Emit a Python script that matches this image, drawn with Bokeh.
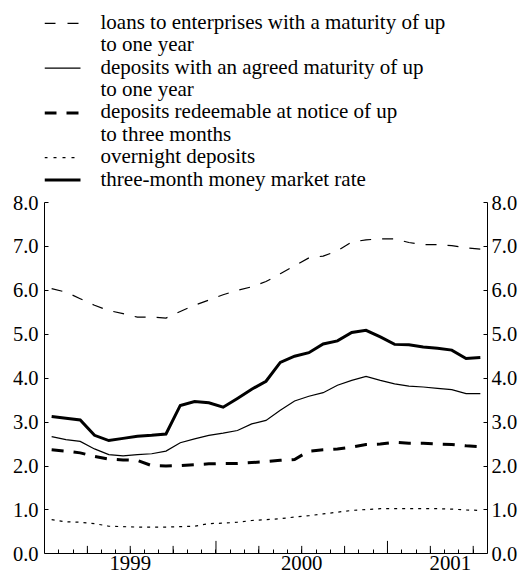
from bokeh.plotting import figure
from bokeh.models import Range1d, LinearAxis, FixedTicker, NumeralTickFormatter
from bokeh.embed import file_html
from bokeh.resources import INLINE
from bokeh.core.properties import value

# ---- data (monthly, Jan 1999 - Jul 2001) ----
months = ["1999-01", "1999-02", "1999-03", "1999-04", "1999-05", "1999-06",
          "1999-07", "1999-08", "1999-09", "1999-10", "1999-11", "1999-12",
          "2000-01", "2000-02", "2000-03", "2000-04", "2000-05", "2000-06",
          "2000-07", "2000-08", "2000-09", "2000-10", "2000-11", "2000-12",
          "2001-01", "2001-02", "2001-03", "2001-04", "2001-05", "2001-06",
          "2001-07"]

loans_1y = [6.04, 5.96, 5.81, 5.66, 5.54, 5.47, 5.39, 5.39, 5.37, 5.52, 5.66, 5.78,
            5.90, 6.00, 6.08, 6.20, 6.38, 6.56, 6.74, 6.78, 6.90, 7.10, 7.15, 7.17,
            7.17, 7.09, 7.04, 7.04, 7.02, 6.97, 6.94]
agreed_1y = [2.67, 2.60, 2.56, 2.39, 2.26, 2.23, 2.26, 2.28, 2.34, 2.53, 2.62, 2.70,
             2.75, 2.81, 2.96, 3.04, 3.27, 3.48, 3.59, 3.67, 3.84, 3.95, 4.04, 3.95,
             3.87, 3.82, 3.80, 3.77, 3.74, 3.65, 3.65]
notice_3m = [2.37, 2.34, 2.30, 2.22, 2.16, 2.14, 2.13, 2.01, 2.00, 2.01, 2.03, 2.05,
             2.06, 2.06, 2.08, 2.10, 2.13, 2.15, 2.34, 2.37, 2.39, 2.43, 2.49, 2.50,
             2.54, 2.52, 2.52, 2.50, 2.49, 2.46, 2.44]
overnight = [0.78, 0.73, 0.72, 0.69, 0.63, 0.62, 0.61, 0.61, 0.61, 0.62, 0.63, 0.69,
             0.70, 0.72, 0.76, 0.78, 0.80, 0.84, 0.87, 0.91, 0.95, 0.99, 1.01, 1.03,
             1.03, 1.03, 1.03, 1.03, 1.02, 1.00, 0.99]
money_3m = [3.13, 3.09, 3.05, 2.70, 2.58, 2.63, 2.68, 2.70, 2.73, 3.38, 3.47, 3.44,
            3.34, 3.54, 3.75, 3.93, 4.36, 4.50, 4.58, 4.78, 4.85, 5.04, 5.09, 4.94,
            4.77, 4.76, 4.71, 4.68, 4.64, 4.45, 4.47]

year_labels = ["1999", "2000", "2001"]
year_label_pos = [6, 18, 28.4]
year_ticks = [12, 24]
quarter_ticks = [3, 6, 9, 15, 18, 21, 27, 30]
month_ticks = list(range(1, 31))
y_ticks = [0, 1, 2, 3, 4, 5, 6, 7, 8]

legend_lines = [
    ("loans to enterprises with a maturity of up", "loans"),
    ("to one year", None),
    ("deposits with an agreed maturity of up", "agreed"),
    ("to one year", None),
    ("deposits redeemable at notice of up", "notice"),
    ("to three months", None),
    ("overnight deposits", "overnight"),
    ("three-month money market rate", "money"),
]

FONT = "Liberation Serif"
x = [i + 0.5 for i in range(len(months))]

styles = {
    "loans": dict(line_width=1.2, line_dash="11 11"),
    "agreed": dict(line_width=1.2),
    "notice": dict(line_width=3, line_dash="12 10"),
    "overnight": dict(line_width=1.2, line_dash="3 5"),
    "money": dict(line_width=3),
}
series = {"loans": loans_1y, "agreed": agreed_1y, "notice": notice_3m,
          "overnight": overnight, "money": money_3m}

# ---- geometry (canvas pixels) ----
W, H = 526, 574
LEFT, RIGHT = 44, 39
Y8, Y0 = 202.0, 553.4          # canvas rows of 8.0 and 0.0
SCALE = (Y0 - Y8) / 8.0        # px per percentage point
NMONTH = 31
XSCALE = (W - LEFT - RIGHT) / NMONTH

def ydata(cy):
    return 8.0 + (Y8 - cy) / SCALE

def xdata(cx):
    return (cx - LEFT) / XSCALE

p = figure(width=W, height=H, x_range=Range1d(0, NMONTH),
           y_range=Range1d(ydata(H), ydata(0)),
           x_axis_type=None, y_axis_type=None, output_backend="svg",
           toolbar_location=None, min_border_left=LEFT, min_border_right=RIGHT,
           min_border_top=0, min_border_bottom=0)
p.outline_line_color = None
p.background_fill_color = "white"
p.border_fill_color = "white"

for key in ["overnight", "notice", "agreed", "loans", "money"]:
    p.line(x, series[key], line_color="black", line_join="miter", **styles[key])

def y_axis(standoff):
    return LinearAxis(ticker=FixedTicker(ticks=y_ticks), bounds=(0, 8),
                      formatter=NumeralTickFormatter(format="0.0"),
                      major_tick_in=4, major_tick_out=0,
                      minor_tick_in=0, minor_tick_out=0,
                      major_label_standoff=standoff,
                      major_label_text_font=FONT,
                      major_label_text_font_size="20.5px",
                      major_label_text_color="black",
                      axis_line_color="black", major_tick_line_color="black")

p.add_layout(y_axis(6), "left")
p.add_layout(y_axis(4), "right")

xa = LinearAxis(ticker=FixedTicker(ticks=[], minor_ticks=month_ticks),
                fixed_location=0, bounds=(0, NMONTH),
                major_tick_in=0, major_tick_out=0, minor_tick_in=4, minor_tick_out=0,
                axis_line_color="black", minor_tick_line_color="black")
p.add_layout(xa, "below")

# quarter and year ticks (longer)
p.segment(x0=quarter_ticks, y0=0, x1=quarter_ticks, y1=8 / SCALE,
          line_color="black", line_width=1)
p.segment(x0=year_ticks, y0=0, x1=year_ticks, y1=13 / SCALE,
          line_color="black", line_width=1)

# year labels (vertically centred about 9.5 px below the axis)
p.text(x=year_label_pos, y=[-9.5 / SCALE] * len(year_labels), text=year_labels,
       text_align="center", text_baseline="middle", text_font=value(FONT),
       text_font_size=value("20.8px"), text_color="black")

# ---- legend (inside the canvas, above the chart) ----
row0, step = 22.8, 22.4
texts, ys = [], []
for i, (txt, key) in enumerate(legend_lines):
    c = row0 + i * step
    texts.append(txt)
    ys.append(ydata(c - 1.5))
    if key is not None:
        st = dict(styles[key])
        if key == "loans":
            st["line_dash"] = "11 12"
        if key == "overnight":
            st["line_dash"] = "3 6"
        p.line([xdata(44), xdata(80)], [ydata(c)] * 2, line_color="black", **st)

p.text(x=[xdata(100)] * len(texts), y=ys, text=texts, text_font=value(FONT),
       text_font_size=value("21px"), text_baseline="middle",
       text_color="black")

open("out.html", "w").write(file_html(p, INLINE))
